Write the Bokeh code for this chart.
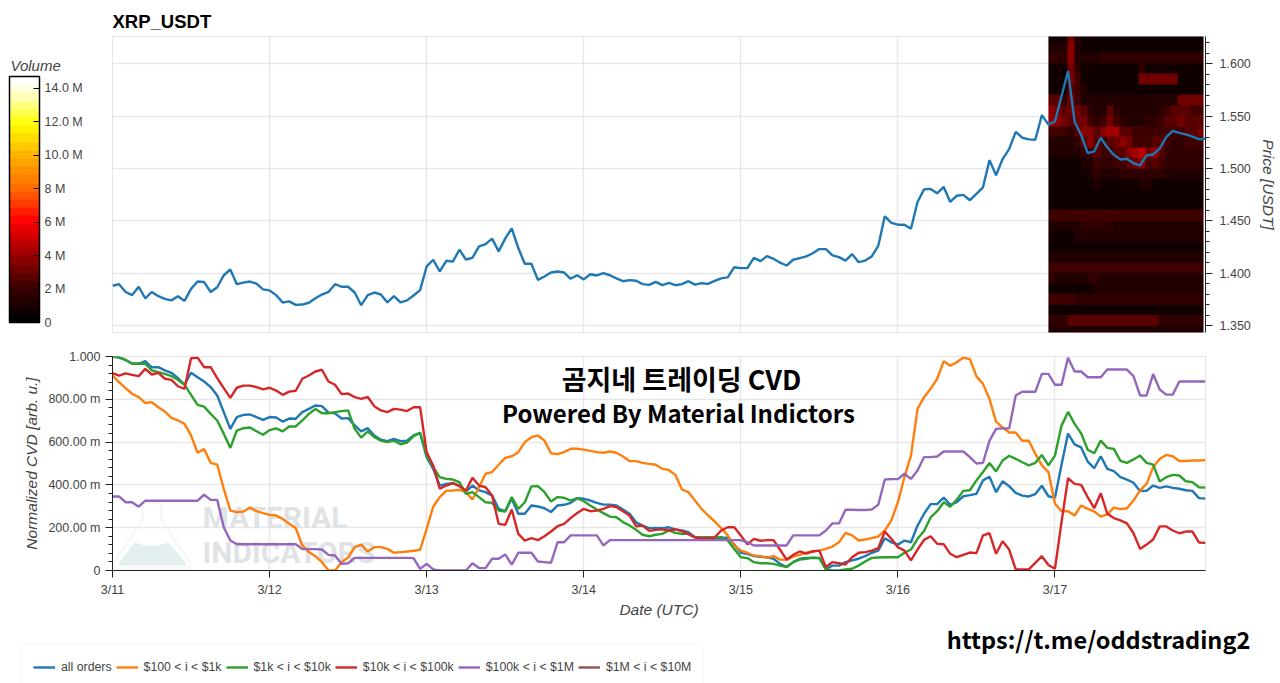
import numpy as np
import pandas as pd
from bokeh.embed import file_html
from bokeh.layouts import column, row
from bokeh.models import (ColorBar, DatetimeTickFormatter, FixedTicker, Label, Legend, LegendItem,
                          LinearColorMapper, PolyAnnotation, Range1d)
from bokeh.plotting import figure
from bokeh.resources import INLINE

hours = pd.date_range("2026-03-11", periods=168, freq="h")
day_ticks = pd.date_range("2026-03-11", periods=7, freq="D")

price = [
    1.388, 1.3895, 1.382, 1.379, 1.387, 1.376, 1.382, 1.378, 1.3755, 1.374, 1.378, 1.3735,
    1.385, 1.392, 1.3915, 1.382, 1.3865, 1.398, 1.4035, 1.3895, 1.391, 1.392, 1.39, 1.3845,
    1.3835, 1.379, 1.372, 1.373, 1.3697, 1.37, 1.3717, 1.376, 1.3796, 1.382, 1.3895, 1.387,
    1.387, 1.3815, 1.3694, 1.379, 1.3815, 1.3796, 1.372, 1.378, 1.372, 1.374, 1.3787, 1.3838,
    1.4064, 1.4128, 1.4016, 1.4118, 1.411, 1.4224, 1.413, 1.4147, 1.4256, 1.4278, 1.433, 1.4208,
    1.433, 1.4428, 1.424, 1.409, 1.409, 1.3936, 1.3968, 1.4006, 1.4016, 1.4006, 1.3946, 1.398,
    1.394, 1.399, 1.3978, 1.4, 1.398, 1.395, 1.3923, 1.3933, 1.3927, 1.3895, 1.3888, 1.3917,
    1.3885, 1.3907, 1.3885, 1.3895, 1.3923, 1.389, 1.3904, 1.3898, 1.3927, 1.395, 1.396, 1.4057,
    1.4048, 1.4048, 1.4147, 1.4115, 1.4163, 1.4137, 1.41, 1.4073, 1.4128, 1.4144, 1.416, 1.419,
    1.423, 1.423, 1.417, 1.4153, 1.412, 1.4182, 1.4105, 1.412, 1.416, 1.426, 1.4543, 1.448,
    1.4463, 1.4463, 1.4425, 1.468, 1.48, 1.4805, 1.4763, 1.4824, 1.468, 1.474, 1.4748, 1.4697,
    1.4757, 1.482, 1.508, 1.4936, 1.509, 1.5185, 1.535, 1.5294, 1.5278, 1.5275, 1.551, 1.542,
    1.545, 1.569, 1.593, 1.5447, 1.532, 1.5147, 1.5163, 1.5294, 1.52, 1.513, 1.5086, 1.5093,
    1.505, 1.503, 1.5125, 1.5134, 1.519, 1.53, 1.536, 1.534, 1.5326, 1.5304, 1.528, 1.5284,
]

all_orders = [
    1.0, .995, .984, .967, .966, .978, .949, .95, .935, .924, .899, .868, .924, .903, .883, .857,
    .818, .74, .662, .717, .727, .729, .717, .704, .717, .715, .696, .71, .709, .74, .755, .771,
    .768, .738, .734, .71, .712, .678, .65, .665, .631, .611, .604, .615, .604, .607, .631, .643,
    .53, .475, .397, .405, .408, .397, .369, .397, .374, .366, .35, .288, .277, .335, .265, .265,
    .304, .299, .291, .273, .304, .307, .316, .338, .335, .327, .316, .308, .308, .304, .285, .265,
    .225, .21, .198, .199, .198, .202, .192, .187, .179, .156, .154, .154, .151, .153, .153, .122,
    .083, .078, .067, .064, .062, .055, .031, .016, .039, .055, .059, .058, .059, .005, .023, .023,
    .039, .047, .055, .067, .083, .093, .151, .132, .121, .14, .132, .21, .265, .31, .31, .341,
    .307, .319, .347, .352, .358, .421, .438, .366, .417, .394, .363, .35, .346, .357, .396, .347,
    .34, .494, .64, .589, .575, .509, .478, .534, .475, .464, .436, .425, .41, .372, .372, .397,
    .386, .393, .386, .382, .375, .372, .338, .336,
]
orders_100_1k = [
    .911, .88, .852, .826, .81, .783, .787, .763, .743, .713, .701, .685, .631, .551, .567, .503,
    .495, .382, .28, .273, .276, .294, .277, .268, .26, .257, .241, .218, .198, .117, .086, .067,
    .039, 0, 0, .039, .061, .109, .121, .089, .109, .109, .101, .083, .086, .089, .092, .097,
    .195, .298, .343, .372, .374, .377, .366, .332, .389, .452, .46, .494, .526, .534, .553, .6,
    .623, .631, .607, .548, .544, .553, .569, .569, .565, .559, .553, .55, .556, .55, .533, .512,
    .511, .503, .498, .494, .475, .47, .447, .379, .366, .327, .288, .257, .229, .198, .164, .117,
    .093, .083, .07, .067, .059, .067, .051, .05, .065, .073, .083, .09, .093, .101, .112, .132,
    .176, .164, .14, .145, .151, .159, .187, .234, .319, .436, .537, .755, .81, .849, .896, .978,
    .957, .973, .995, .988, .907, .872, .801, .696, .668, .645, .645, .606, .606, .545, .491, .46,
    .312, .277, .277, .257, .304, .288, .276, .252, .262, .294, .287, .291, .327, .374, .405, .483,
    .522, .54, .534, .512, .512, .514, .514, .516,
]
orders_1k_10k = [
    1.0, .997, .984, .966, .967, .966, .935, .927, .919, .908, .891, .868, .821, .774, .766, .732,
    .701, .639, .573, .654, .665, .668, .651, .634, .656, .664, .65, .673, .673, .701, .732, .755,
    .735, .735, .74, .745, .748, .662, .621, .65, .623, .607, .6, .607, .59, .598, .628, .643,
    .537, .483, .436, .428, .425, .413, .358, .366, .343, .319, .316, .28, .276, .343, .288, .319,
    .393, .394, .366, .322, .343, .34, .327, .338, .324, .304, .285, .268, .252, .249, .226, .21,
    .19, .167, .16, .167, .171, .187, .176, .171, .171, .156, .153, .156, .154, .156, .14, .101,
    .062, .058, .039, .034, .034, .031, .023, .016, .039, .051, .055, .061, .058, .005, 0, 0,
    .005, .008, .023, .042, .059, .061, .062, .062, .062, .083, .098, .148, .185, .248, .277, .319,
    .298, .332, .372, .375, .421, .46, .502, .463, .514, .536, .522, .506, .491, .503, .54, .491,
    .537, .677, .741, .685, .641, .564, .548, .607, .573, .568, .512, .503, .519, .537, .503, .495,
    .416, .436, .447, .444, .417, .413, .389, .388,
]
orders_10k_100k = [
    .922, .911, .921, .914, .908, .942, .916, .924, .896, .891, .861, .849, .992, .995, .95, .95,
    .899, .852, .807, .854, .864, .864, .857, .846, .854, .841, .821, .836, .84, .896, .911, .93,
    .938, .883, .868, .824, .827, .81, .802, .811, .768, .748, .74, .755, .752, .745, .763, .763,
    .553, .491, .382, .397, .408, .394, .374, .433, .397, .389, .35, .218, .213, .285, .171, .14,
    .151, .142, .16, .182, .207, .218, .245, .269, .288, .277, .28, .288, .301, .296, .277, .257,
    .207, .21, .185, .19, .192, .187, .192, .184, .17, .154, .151, .151, .154, .187, .202, .202,
    .164, .122, .148, .139, .142, .142, .097, .051, .073, .089, .079, .089, .093, .016, .039, .034,
    .028, .062, .083, .086, .093, .104, .182, .148, .109, .093, .047, .098, .143, .16, .125, .123,
    .078, .062, .073, .084, .081, .164, .174, .078, .137, .098, .005, .005, .005, .036, .067, .026,
    .008, .226, .431, .405, .4, .343, .291, .361, .265, .245, .234, .22, .174, .101, .121, .145,
    .206, .206, .187, .174, .182, .182, .131, .129,
]
orders_100k_1m = [
    .346, .346, .319, .319, .298, .326, .326, .326, .326, .326, .326, .326, .326, .326, .354, .33,
    .33, .202, .14, .123, .123, .123, .123, .123, .123, .123, .123, .123, .123, .1, .1, .1,
    .098, .073, .07, .031, .034, .059, .059, .059, .059, .059, .059, .059, .059, .059, .058, .008,
    .031, .005, 0, 0, 0, 0, 0, .034, .012, .011, .055, .055, .075, .027, .083, .083,
    .083, .042, .039, .036, .132, .132, .164, .164, .164, .164, .164, .117, .142, .142, .142, .142,
    .142, .142, .142, .142, .142, .142, .142, .142, .142, .142, .142, .142, .142, .142, .142, .142,
    .142, .132, .117, .117, .117, .117, .117, .117, .164, .164, .164, .164, .164, .187, .22, .22,
    .284, .284, .283, .283, .285, .307, .425, .427, .427, .452, .428, .467, .53, .53, .533, .556,
    .556, .556, .556, .53, .5, .503, .607, .662, .664, .664, .818, .835, .835, .835, .919, .919,
    .868, .868, .994, .93, .93, .903, .903, .903, .939, .939, .939, .939, .908, .818, .818, .918,
    .846, .822, .822, .883, .883, .883, .883, .883,
]

series_names = ["all orders", "$100 < i < $1k", "$1k < i < $10k", "$10k < i < $100k", "$100k < i < $1M", "$1M < i < $10M"]
series_colors = ["#1f77b4", "#ff7f0e", "#2ca02c", "#d62728", "#9467bd", "#8c564b"]

cvd_ticks = [0, 0.2, 0.4, 0.6, 0.8, 1.0]
cvd_labels = ["0", "200.00 m", "400.00 m", "600.00 m", "800.00 m", "1.000"]
price_ticks = [1.35, 1.40, 1.45, 1.50, 1.55, 1.60]
volume_ticks = [0, 2e6, 4e6, 6e6, 8e6, 10e6, 12e6, 14e6]
volume_labels = ["0", "2 M", "4 M", "6 M", "8 M", "10.0 M", "12.0 M", "14.0 M"]

# order book volume in millions, one row per $0.01 price bucket (top row first), one column per hour from 3/16 23:00
heat_first_hour = hours[143]
heat_top = 1.63
heat_rows = [
    [.9, .9, .9, 3.1, 1, .9, .9, .9, .9, .9, .9, .9, .9, .9, .9, .9, .9, .9, .9, .9, .9, .9, .9, .9],
    [1, 1, 1, 3.5, 1.1, .9, .9, .9, .9, .9, .9, .9, .9, .9, .9, .9, .9, .9, .9, .9, .9, .9, .9, .9],
    [1.7, 1.7, 1.7, 3.5, 1.4, 1.2, 1.2, 1.2, 1.7, 1.7, 1.7, 1.7, 1.7, 1.7, 1.7, 1.7, 1.7, 1.7, 1.7, 1.7, 1.7, 1.7, 1.7, 1.7],
    [.9, .9, .9, 3.1, 1.9, .9, .9, .9, .9, .9, .9, .9, .9, .9, 1.7, .9, .9, .9, .9, .9, .9, .9, .9, .9],
    [.8, .8, .8, 3.2, 2.3, .8, .8, .8, .8, .8, .8, .8, .8, .8, 3.1, 3.3, 3.3, 3.3, 3.3, 3.3, .8, .8, .8, .8],
    [.9, .9, .9, 2.9, 2.3, 1.1, .9, .9, .9, .9, .9, .9, .9, .9, .9, .9, .9, .9, .9, .9, .9, .9, .9, .9],
    [2.5, 2.5, 1.9, 3.1, 2.2, 1.2, 1, 1, 1, 1, 1, 1, 1, 1, 1, 1, 1, 1, 1, 1, 3.1, 3.1, 3.1, 3.1],
    [3.5, 3.4, 2.8, 3.1, 3.1, 2.8, 1.9, 1.4, 1.4, 2.5, 1.6, 1.3, 1.3, 1.3, 1.3, 1.4, 1.4, 1.9, 2.3, 2.5, 2.9, 2.8, 2.3, 2.3],
    [3.7, 3.9, 3.1, 2.8, 3.1, 3.2, 2.2, 1.6, 2.3, 3.1, 2.3, 1.6, 1.1, 1.4, 1.4, 1.6, 1.9, 2.3, 2.6, 2.9, 3.2, 2.9, 2.8, 2.9],
    [2.3, 2.3, 2.2, 1.9, 2.8, 3.9, 3.7, 2.5, 3.5, 4.4, 4.2, 2.9, 2.5, 2.2, 2, 2.2, 2.3, 2.2, 2.2, 2.2, 2.3, 2.6, 2.8, 3.2],
    [1.4, 1.4, 1.3, 1.2, 1.6, 2.9, 3.7, 2.8, 2.2, 2.8, 3.1, 3.7, 3.1, 2.3, 2.2, 2.3, 2.9, 2.6, 2.3, 1.9, 1.9, 2.2, 2.3, 2.3],
    [1.1, 1.1, 1.1, 1, 1.2, 1.6, 2.3, 2.8, 2.2, 2.2, 2.5, 2.6, 3.9, 4.4, 4.6, 3.1, 3.6, 2.8, 1.8, 1.6, 1.5, 1.8, 1.7, 1.6],
    [.9, .9, .9, .9, .9, 1.1, 1.4, 2.3, 1.9, 1.7, 2, 2.3, 2.8, 3.2, 3.9, 2.3, 2.8, 2.3, 1.7, 1.6, 1.7, 1.7, 1.7, 1.7],
    [.9, .9, .9, .9, .9, .9, 1.2, 1.9, 1.4, 1.3, 1.4, 1.6, 1.8, 1.8, 1.7, 1.7, 1.6, 1.6, 1.2, 1.2, 1.1, 1.1, 1.1, 1.1],
    [.8, .8, .8, .8, .8, .8, .8, 1, .9, .9, .9, .9, .9, .9, 1.4, 1.1, .9, .9, .8, .8, .8, .8, .8, .8],
    [.8, .8, .8, .8, .8, .8, .8, .8, .8, .8, .8, .8, .8, .8, .9, .9, .8, .8, .8, .8, .8, .8, .8, .8],
    [.8, .8, .8, .8, .8, .8, .8, .8, .8, .8, .8, .8, .8, .8, .8, .8, .8, .8, .8, .8, .8, .8, .8, .8],
    [2.2, 2.2, 2.2, 2.2, 2.2, 2.2, 2.2, 2.2, 2.2, 2.2, 2.2, 2.2, 2.2, 2.2, 2.2, 2.2, 2.3, 2.2, 2.2, 2.2, 2.2, 2.2, 2.2, 2.2],
    [1.3, 1.3, 1.3, 1.3, 1.3, 1.5, 1.5, 1.5, 1.5, 1.5, 1.3, 1.3, 1.3, 1.3, 1.3, 1.3, 1.3, 1.3, 1.3, 1.3, 1.3, 1.3, 1.3, 1.3],
    [.9, .9, .9, .9, 1.1, 1.1, 1.1, 1.1, 1.1, 1.1, 1.1, 1.1, 1.1, 1.1, 1.1, 1.1, 1.1, 1.1, 1.1, 1.1, 1.1, 1.1, 1.2, 1.2],
    [.9, .9, .9, .9, .9, .9, .9, .9, .9, .9, .9, .9, .9, .9, .9, .9, .9, .9, .9, .9, .9, .9, .9, .9],
    [1.2, 1.2, 1.2, 1.2, 1.2, 1.2, 1.2, 1.2, 1.2, 1.2, 1.2, 1.2, 1.2, 1.2, 1.2, 1.2, 1.2, 1.2, 1.2, 1.2, 1.4, 1.4, 1.4, 1.4],
    [2, 2, 2, 2, 2, 2, 2, 2, 2, 2, 2, 2, 2, 2, 2, 2, 2, 2, 2, 2, 2, 2, 2, 2],
    [1.5, 1.4, 1.4, 1.4, 1.4, 1.4, 1.9, 1.9, 1.4, 1.4, 1.4, 1.4, 1.4, 1.4, 1.4, 1.4, 1.4, 1.4, 1.4, 1.4, 1.4, 1.4, 1.4, 1.4],
    [.7, .7, .7, .7, .7, .7, .7, 1, 1, 1, 1, 1, 1, 1, 1, 1, 1, 1, 1, 1, 1, 1, 1, 1],
    [2.1, 2.1, 2.1, 2.1, 1.9, 1.9, 1.9, 1.9, 1.9, 1.9, 1.9, 1.9, 1.9, 1.9, 1.9, 1.9, 1.9, 1.9, 1.9, 1.9, 1.9, 1.9, 1.9, 1.9],
    [.9, .9, .9, .9, .9, .9, .9, .9, .9, .9, .9, .9, .9, .9, .9, .9, .9, .9, .9, .9, .9, .9, .9, .9],
    [1.8, 1.8, 1.8, 2.6, 2.6, 2.6, 2.6, 2.6, 2.6, 2.6, 2.6, 2.6, 2.6, 2.6, 2.6, 2.6, 2.6, 1.7, 1.7, 1.7, 1.7, 1.7, 1.7, 1.7],
    [1, 1, 1, 1, 1, 1, 1, 1, 1, 1, 1, 1, 1, 1, 1, 1, 1, 1, 1, 1, 1, 1, 1, 1],
]

color_stops = ["#000000", "#400000", "#a00000", "#ff0000", "#ff6a00", "#ffb000", "#ffff00", "#ffffd8", "#ffffff"]
stop_at = [0, 2, 4, 6, 8, 10, 12, 14, 14.7]
steps = np.linspace(0, 14.7, 30)
stop_rgb = np.array([[int(c[i:i + 2], 16) for i in (1, 3, 5)] for c in color_stops], dtype=float)
fire = ["#%02x%02x%02x" % tuple(int(np.interp(s, stop_at, stop_rgb[:, k])) for k in range(3)) for s in steps]
mapper = LinearColorMapper(palette=fire, low=0, high=14.7e6)

FONT = "Liberation Sans"
GREY = "#444444"

# left strip: color bar and its caption only
p0 = figure(width=112, height=345, output_backend="svg", toolbar_location=None, x_axis_location=None,
            y_axis_location=None, x_range=Range1d(0, 1), y_range=Range1d(0, 1),
            min_border_left=0, min_border_right=0, min_border_top=0, min_border_bottom=0)
p0.frame_align = False
p0.outline_line_color = None
p0.grid.visible = False
bar = ColorBar(color_mapper=mapper, location=(9, 23), width=30, height=246, padding=0, margin=0,
               background_fill_alpha=0, border_line_color=None,
               bar_line_color="#000000", bar_line_width=1.5,
               ticker=FixedTicker(ticks=volume_ticks), major_label_overrides=dict(zip(volume_ticks, volume_labels)),
               major_label_text_font=FONT, major_label_text_font_size="12.5px", major_label_text_color=GREY,
               major_label_text_align="center", label_standoff=5,
               major_tick_line_color="#000000", major_tick_in=6, minor_tick_line_color=None)
p0.add_layout(bar)
p0.add_layout(Label(x=10, y=65, x_units="canvas", y_units="canvas", text="Volume", text_font=FONT, text_font_size="15px",
                    text_font_style="italic", text_color=GREY, text_baseline="middle"))

p1 = figure(width=1168, height=345, output_backend="svg", toolbar_location=None, x_axis_type="datetime",
            y_axis_location="right", x_range=Range1d(hours[0], hours[-1]), y_range=Range1d(1.3433, 1.6261),
            min_border_left=0, min_border_right=75, min_border_top=36, min_border_bottom=13,
            title="XRP_USDT")
p1.frame_align = False
p1.title.text_font = FONT
p1.title.text_font_size = "18.5px"
p1.title.text_font_style = "bold"
p1.title.text_color = "#000000"
p1.title.offset = 0
p1.xaxis.visible = False
p1.xgrid.ticker = FixedTicker(ticks=[d.timestamp() * 1000 for d in day_ticks])
p1.yaxis.ticker = FixedTicker(ticks=price_ticks, minor_ticks=[round(1.35 + i * 0.01, 2) for i in range(-1, 28)])
p1.yaxis.major_label_overrides = {t: "%.3f" % t for t in price_ticks}
p1.yaxis.axis_label = "Price [USDT]"

heat = np.flipud(np.array(heat_rows)) * 1e6
p1.image(image=[heat], x=heat_first_hour.timestamp() * 1000, y=heat_top - 0.29, dw=23.7 * 3600000, dh=0.29,
         color_mapper=mapper)
p1.line(hours, price, line_color=series_colors[0], line_width=2.4)

p2 = figure(width=1280, height=277, output_backend="svg", toolbar_location=None, x_axis_type="datetime",
            x_range=Range1d(hours[0], hours[-1]), y_range=Range1d(0, 1),
            min_border_left=112, min_border_right=75, min_border_top=11, min_border_bottom=52)
p2.frame_align = False
p2.xaxis.ticker = FixedTicker(ticks=[d.timestamp() * 1000 for d in day_ticks])
p2.xaxis.formatter = DatetimeTickFormatter(days="%-m/%-d", hours="%-m/%-d", months="%-m/%-d")
p2.xaxis.axis_label = "Date (UTC)"
p2.yaxis.ticker = FixedTicker(ticks=cvd_ticks, minor_ticks=[round(i * 0.04, 2) for i in range(26)])
p2.yaxis.major_label_overrides = dict(zip(cvd_ticks, cvd_labels))
p2.yaxis.axis_label = "Normalized CVD [arb. u.]"

for p in (p1, p2):
    p.outline_line_color = "#e5e5e5"
    p.grid.grid_line_color = "#e8e8e8"
    p.grid.grid_line_width = 1.5
    for ax in p.axis:
        ax.major_label_text_font = FONT
        ax.major_label_text_font_size = "12.5px"
        ax.major_label_text_color = GREY
        ax.axis_label_text_font = FONT
        ax.axis_label_text_font_size = "15.5px"
        ax.axis_label_text_font_style = "italic"
        ax.axis_label_text_color = GREY
        ax.major_tick_in = 0
        ax.major_tick_out = 7
        ax.minor_tick_in = 0
        ax.minor_tick_out = 4
        ax.axis_line_color = "#222222"
        ax.major_tick_line_color = "#222222"
        ax.minor_tick_line_color = "#222222"
p2.xaxis.minor_tick_line_color = None
p1.yaxis.major_label_standoff = 7
p1.yaxis.axis_label_standoff = 6
p2.xaxis.axis_label_standoff = 1

# watermark sits behind the lines, canvas coordinates (origin top left of the lower figure)
flask = PolyAnnotation(xs=[142, 142, 113, 116, 188, 190, 161, 161], ys=[157, 175, 218, 223, 223, 218, 175, 157],
                       xs_units="canvas", ys_units="canvas", fill_alpha=0,
                       line_color="#e8e8e8", line_width=3, level="underlay")
flask_liquid = PolyAnnotation(xs=[118, 134, 144, 158, 168, 186, 184, 120], ys=[218, 197, 200, 200, 197, 218, 220, 220],
                              xs_units="canvas", ys_units="canvas", fill_color="#e4eeee", fill_alpha=1,
                              line_color=None, level="underlay")
p2.add_layout(flask)
p2.add_layout(flask_liquid)
for text, y in (("MATERIAL", 172), ("INDICATORS", 207)):
    p2.add_layout(Label(x=202, y=y, x_units="canvas", y_units="canvas", text=text, text_font="Roboto",
                        text_font_size="30px", text_font_style="bold", text_color="#dfe3e6", text_baseline="middle",
                        level="underlay"))

for color, values in zip(series_colors, [all_orders, orders_100_1k, orders_1k_10k, orders_10k_100k, orders_100k_1m]):
    p2.line(hours, values, line_color=color, line_width=2.4)

for text, x, y, size in (("곰지네 트레이딩 CVD", 681, 33, "27px"), ("Powered By Material Indictors", 678, 67, "24px")):
    p2.add_layout(Label(x=x, y=y, x_units="canvas", y_units="canvas", text=text, text_font="Noto Sans CJK KR",
                        text_font_size=size, text_font_style="bold", text_color="#000000", text_align="center",
                        text_baseline="middle"))

# bottom strip: holds only the legend (its box runs off the page as in the source) and the channel link
p3 = figure(width=1280, height=61, output_backend="svg", toolbar_location=None, x_axis_location=None,
            y_axis_location=None, x_range=Range1d(0, 1), y_range=Range1d(0, 1),
            min_border_left=0, min_border_right=0, min_border_top=0, min_border_bottom=0)
p3.frame_align = False
p3.outline_line_color = None
p3.grid.visible = False
items = []
for name, color in zip(series_names, series_colors):
    items.append(LegendItem(label=name, renderers=[p3.line([float("nan")], [float("nan")], line_color=color, line_width=2.4)]))
legend = Legend(items=items, orientation="horizontal", location=(20, -7), glyph_width=22, glyph_height=20,
                label_standoff=6, spacing=4, padding=12, margin=0, border_line_color="#eeeeee", border_line_width=1,
                label_text_font=FONT, label_text_font_size="12.3px", label_text_color=GREY)
p3.add_layout(legend)
p3.add_layout(Label(x=1098, y=16, x_units="canvas", y_units="canvas", text="https://t.me/oddstrading2",
                    text_font="Noto Sans CJK KR", text_font_size="23.5px", text_font_style="bold", text_color="#000000",
                    text_align="center", text_baseline="middle"))

page = column(row(p0, p1, spacing=0), p2, p3, spacing=0)
open("out.html", "w").write(file_html(page, INLINE))
